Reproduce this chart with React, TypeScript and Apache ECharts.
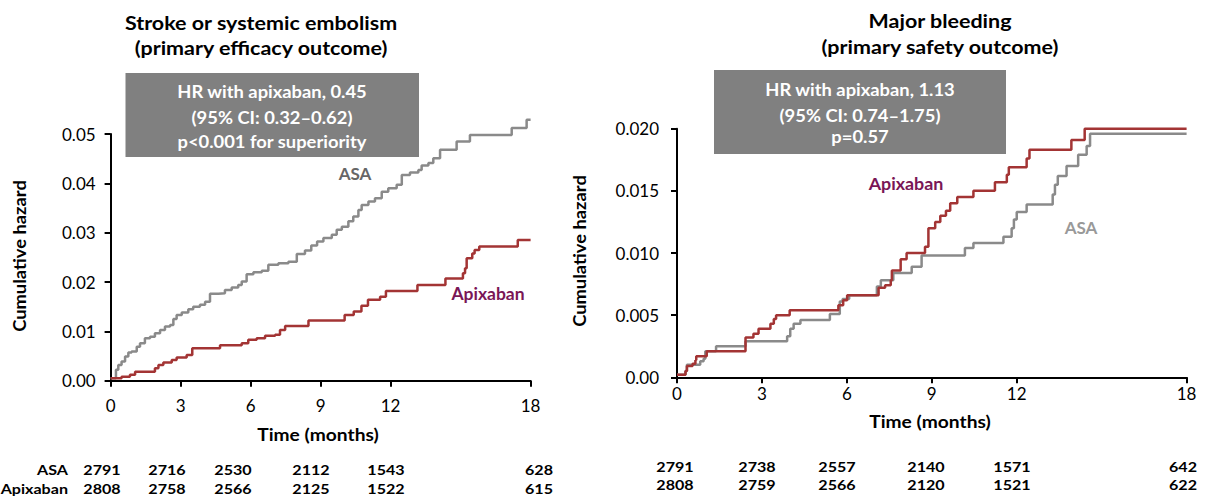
import React, { useEffect, useRef } from "react";
import * as echarts from "echarts";

// ---------- data ----------
const xTicks = [0, 3, 6, 9, 12, 18];

// Left panel: stroke or systemic embolism (months, cumulative hazard)
const leftAsa: [number, number][] = [
  [0, 0.0005], [0.23, 0.0022], [0.33, 0.0032], [0.47, 0.0039], [0.62, 0.0049], [0.76, 0.0057],
  [0.9, 0.0059], [1.12, 0.0069], [1.26, 0.0076], [1.47, 0.0086], [1.69, 0.0089], [1.9, 0.0096],
  [2.12, 0.0103], [2.33, 0.011], [2.55, 0.0113], [2.69, 0.0125], [2.83, 0.0133], [3.05, 0.0138],
  [3.33, 0.0145], [3.54, 0.015], [3.83, 0.0154], [4.05, 0.016], [4.26, 0.0176], [4.62, 0.0177],
  [4.9, 0.0184], [5.19, 0.0189], [5.47, 0.0194], [5.62, 0.0201], [5.83, 0.0216], [6.12, 0.022],
  [6.48, 0.0223], [6.76, 0.0235], [7.19, 0.0238], [7.62, 0.0241], [7.98, 0.0257], [8.33, 0.0264],
  [8.6, 0.0274], [8.85, 0.0282], [9.12, 0.0289], [9.48, 0.0296], [9.69, 0.0306], [9.91, 0.0312],
  [10.19, 0.0323], [10.4, 0.0333], [10.62, 0.0346], [10.76, 0.0356], [11.05, 0.0363], [11.33, 0.037],
  [11.62, 0.0383], [11.9, 0.039], [12.26, 0.0397], [12.48, 0.0417], [12.83, 0.0422], [13.19, 0.0427],
  [13.33, 0.0436], [13.62, 0.0441], [13.83, 0.0451], [14.12, 0.0468], [14.83, 0.0485], [15.4, 0.0498],
  [17.19, 0.0512], [17.83, 0.0529], [18, 0.0529],
];
const leftApix: [number, number][] = [
  [0, 0.0005], [0.47, 0.0008], [0.83, 0.0012], [1.05, 0.0018], [1.9, 0.0025], [2.05, 0.0032],
  [2.26, 0.0037], [2.62, 0.0042], [2.83, 0.0047], [3.26, 0.0052], [3.5, 0.0066], [4.69, 0.0072],
  [5.62, 0.0076], [5.9, 0.0083], [6.26, 0.0086], [6.62, 0.0091], [7.05, 0.0093], [7.26, 0.0103],
  [7.48, 0.0111], [8.48, 0.0122], [10.03, 0.0133], [10.42, 0.014], [10.75, 0.0152], [11.03, 0.0164],
  [11.55, 0.017], [11.8, 0.0182], [13.15, 0.0194], [14.35, 0.0207], [15.1, 0.0218], [15.19, 0.0228],
  [15.26, 0.0248], [15.5, 0.0258], [15.6, 0.0265], [15.8, 0.0272], [17.45, 0.0285], [18, 0.0285],
];

// Right panel: major bleeding
const rightAsa: [number, number][] = [
  [0, 0.0002], [0.3, 0.0005], [0.35, 0.001], [0.82, 0.0013], [0.94, 0.0015], [1.0, 0.0021],
  [1.38, 0.0025], [2.42, 0.0029], [3.89, 0.0033], [4.0, 0.0039], [4.12, 0.0043], [4.36, 0.0046],
  [5.4, 0.0051], [5.75, 0.0061], [5.85, 0.0063], [6.08, 0.0066], [7.06, 0.0073], [7.2, 0.0078],
  [7.64, 0.0084], [8.29, 0.0089], [8.64, 0.0098], [10.17, 0.0104], [10.47, 0.0108], [11.53, 0.0113],
  [11.82, 0.012], [11.9, 0.0127], [12.0, 0.0133], [12.35, 0.0139], [13.27, 0.0147], [13.35, 0.0155],
  [13.45, 0.0162], [13.76, 0.017], [14.17, 0.0179], [14.47, 0.0186], [14.59, 0.0196], [18, 0.0196],
];
const rightApix: [number, number][] = [
  [0, 0.0002], [0.3, 0.0005], [0.35, 0.0009], [0.55, 0.0011], [0.65, 0.0014], [0.68, 0.0017],
  [1.05, 0.0021], [2.42, 0.0032], [2.7, 0.0035], [2.88, 0.0039], [3.3, 0.0043], [3.42, 0.0047],
  [3.5, 0.005], [3.98, 0.0054], [5.7, 0.0058], [5.87, 0.0062], [6.01, 0.0066], [7.12, 0.0072],
  [7.35, 0.0074], [7.55, 0.0078], [7.59, 0.0086], [7.9, 0.0095], [8.11, 0.01], [8.76, 0.0105],
  [8.88, 0.012], [9.12, 0.0125], [9.3, 0.013], [9.5, 0.0134], [9.65, 0.014], [9.9, 0.0145],
  [10.47, 0.015], [11.23, 0.0157], [11.65, 0.0163], [11.72, 0.0169], [12.35, 0.0176], [12.45, 0.0183],
  [13.93, 0.0191], [14.4, 0.02], [18, 0.02],
];

// Numbers at risk
const leftRiskAsa = [2791, 2716, 2530, 2112, 1543, 628];
const leftRiskApix = [2808, 2758, 2566, 2125, 1522, 615];
const rightRiskAsa = [2791, 2738, 2557, 2140, 1571, 642];
const rightRiskApix = [2808, 2759, 2566, 2120, 1521, 622];

// ---------- styles / layout ----------
const FONT = "Lato, 'Open Sans', sans-serif";
const GRAY_LINE = "#8a8a8a";
const RED_LINE = "#a33434";
const PURPLE = "#7a1656";
const BOX = "#808080";

const leftRiskX = [102, 167, 233, 311, 386, 539];
const rightRiskX = [675, 757, 837, 926, 1012, 1183];

function txt(x: number, y: number, text: string, opt: any = {}) {
  return {
    type: "text",
    x,
    y,
    rotation: opt.rotation || 0,
    scaleX: opt.sx || 1,
    style: {
      text,
      fill: opt.color || "#000",
      font: `${opt.weight || "bold"} ${opt.size || 16}px ${FONT}`,
      textAlign: opt.align || "center",
      textVerticalAlign: "middle",
    },
  };
}

export default function App() {
  const ref = useRef<HTMLDivElement>(null);
  useEffect(() => {
    document.body.style.margin = "0";
    if (!ref.current) return;
    const chart = echarts.init(ref.current, null, { renderer: "svg" });

    const axisCommon = {
      axisLine: { show: true, lineStyle: { color: "#000", width: 2 } },
      axisTick: { show: true, length: 6, lineStyle: { color: "#000", width: 2 } },
      splitLine: { show: false },
    };

    const xAxisFor = (gridIndex: number, margin: number) => ({
      type: "value",
      gridIndex,
      min: 0,
      max: 18,
      ...axisCommon,
      axisTick: { ...axisCommon.axisTick, customValues: xTicks },
      axisLabel: {
        customValues: xTicks,
        margin,
        color: "#000",
        fontSize: 17,
        fontFamily: FONT,
        formatter: (v: number) => String(v),
      },
    });

    const T = { size: 19, sx: 1.13 };
    const B = { color: "#fff", size: 17, sx: 1.08 };
    const R = { size: 14, sx: 1.15 };
    const graphics: any[] = [
      // left titles
      txt(261, 23, "Stroke or systemic embolism", T),
      txt(261, 48, "(primary efficacy outcome)", T),
      { type: "rect", shape: { x: 125.5, y: 73, width: 293.5, height: 84 }, style: { fill: BOX } },
      txt(272, 92, "HR with apixaban, 0.45", B),
      txt(272, 118, "(95% CI: 0.32–0.62)", B),
      txt(272, 142, "p<0.001 for superiority", B),
      txt(355, 173, "ASA", { color: "#666666", size: 17 }),
      txt(488, 294, "Apixaban", { color: PURPLE, size: 17, sx: 1.03 }),
      txt(318, 434, "Time (months)", { size: 17, sx: 1.13 }),
      txt(20, 256, "Cumulative hazard", { size: 17, sx: 1.08, rotation: Math.PI / 2 }),
      // right titles
      txt(940, 21, "Major bleeding", T),
      txt(940, 47, "(primary safety outcome)", T),
      { type: "rect", shape: { x: 714, y: 70, width: 292, height: 84 }, style: { fill: BOX } },
      txt(860, 90, "HR with apixaban, 1.13", B),
      txt(860, 116, "(95% CI: 0.74–1.75)", B),
      txt(860, 137, "p=0.57", B),
      txt(906, 184, "Apixaban", { color: PURPLE, size: 17, sx: 1.05 }),
      txt(1081, 227, "ASA", { color: "#999999", size: 17 }),
      txt(930, 421, "Time (months)", { size: 17, sx: 1.13 }),
      txt(580, 251, "Cumulative hazard", { size: 17, sx: 1.08, rotation: Math.PI / 2 }),
      // at-risk labels
      txt(68, 469, "ASA", { ...R, align: "right" }),
      txt(68, 488, "Apixaban", { ...R, align: "right" }),
    ];
    leftRiskAsa.forEach((n, i) => graphics.push(txt(leftRiskX[i], 469, String(n), R)));
    leftRiskApix.forEach((n, i) => graphics.push(txt(leftRiskX[i], 488, String(n), R)));
    rightRiskAsa.forEach((n, i) => graphics.push(txt(rightRiskX[i], 466, String(n), R)));
    rightRiskApix.forEach((n, i) => graphics.push(txt(rightRiskX[i], 484, String(n), R)));

    const lineSeries = (name: string, data: [number, number][], color: string, idx: number) => ({
      name,
      type: "line",
      xAxisIndex: idx,
      yAxisIndex: idx,
      data,
      step: "end",
      symbol: "none",
      showSymbol: false,
      clip: false,
      lineStyle: { color, width: 2.5 },
      z: color === RED_LINE ? 3 : 2,
    });

    chart.setOption({
      animation: false,
      backgroundColor: "#fff",
      grid: [
        { left: 110.6, top: 134, width: 420, height: 246.7 },
        { left: 677, top: 128.7, width: 509.6, height: 248.6 },
      ],
      xAxis: [xAxisFor(0, 16), xAxisFor(1, 8)],
      yAxis: [
        {
          type: "value",
          gridIndex: 0,
          min: 0,
          max: 0.05,
          interval: 0.01,
          ...axisCommon,
          axisLabel: {
            margin: 15,
            color: "#000",
            fontSize: 17,
            fontFamily: FONT,
            formatter: (v: number) => v.toFixed(2),
          },
        },
        {
          type: "value",
          gridIndex: 1,
          min: 0,
          max: 0.02,
          interval: 0.005,
          ...axisCommon,
          axisLabel: {
            margin: 18,
            color: "#000",
            fontSize: 17,
            fontFamily: FONT,
            formatter: (v: number) => (v === 0 ? "0.00" : v.toFixed(3)),
          },
        },
      ],
      series: [
        lineSeries("ASA", leftAsa, GRAY_LINE, 0),
        lineSeries("Apixaban", leftApix, RED_LINE, 0),
        lineSeries("ASA", rightAsa, GRAY_LINE, 1),
        lineSeries("Apixaban", rightApix, RED_LINE, 1),
      ],
      graphic: graphics,
    });
    return () => chart.dispose();
  }, []);
  return <div ref={ref} style={{ width: 1207, height: 497 }} />;
}
